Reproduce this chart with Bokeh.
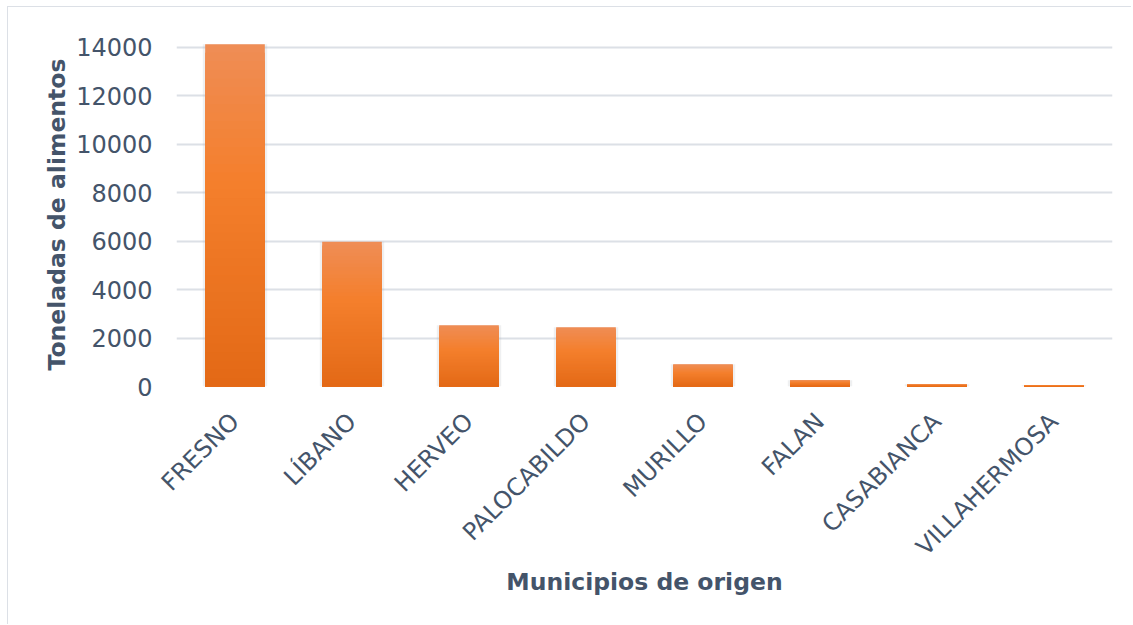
import numpy as np
from bokeh.plotting import figure
from bokeh.models import FixedTicker, ColumnDataSource, Range1d
from bokeh.embed import file_html
from bokeh.resources import INLINE

municipios = ["FRESNO", "LÍBANO", "HERVEO", "PALOCABILDO", "MURILLO", "FALAN", "CASABIANCA", "VILLAHERMOSA"]
toneladas = [14130, 5970, 2530, 2450, 920, 260, 90, 50]
y_ticks = [0, 2000, 4000, 6000, 8000, 10000, 12000, 14000]

TXT = "#44546A"
FONT = "DejaVu Sans"

p = figure(x_range=municipios, y_range=Range1d(0, 14200), width=1124, height=618,
           output_backend="svg", toolbar_location=None,
           min_border_left=168, min_border_right=20, min_border_top=35, min_border_bottom=239)
p.styles = {"border-left": "1px solid #DCE0E6", "border-top": "1px solid #DCE0E6",
            "margin-left": "7px", "margin-top": "6px"}

def lerp(c1, c2, t):
    return tuple(int(round(a + (b - a) * t)) for a, b in zip(c1, c2))

bot_c = (0xE3, 0x69, 0x16)
mid_c = (0xF4, 0x7F, 0x2C)
top_c = (0xEF, 0x8D, 0x56)
n = 40
xs, tops, cols = [], [], []
# gradient: overlapping bars from the full height down to the bottom slice (no seams)
for i in range(n - 1, -1, -1):
    for m, v in zip(municipios, toneladas):
        t = (i + 0.5) / n
        c = lerp(bot_c, mid_c, t / 0.6) if t < 0.6 else lerp(mid_c, top_c, (t - 0.6) / 0.4)
        xs.append(m)
        tops.append(v * (i + 1) / n)
        cols.append("#%02x%02x%02x" % c)

# soft shadow
p.vbar(x=municipios, top=toneladas, bottom=[-70] * len(municipios), width=0.55,
       fill_color="#9aa0a8", fill_alpha=0.16, line_color=None)
src = ColumnDataSource(dict(x=xs, top=tops, color=cols))
p.vbar(x="x", bottom=0, top="top", width=0.51, source=src,
       fill_color="color", line_color=None)

p.outline_line_color = None
p.xgrid.grid_line_color = None
p.ygrid.grid_line_color = "#DCE0E6"
p.ygrid.grid_line_width = 2
p.yaxis.ticker = FixedTicker(ticks=y_ticks)

for ax in (p.xaxis[0], p.yaxis[0]):
    ax.axis_line_color = None
    ax.major_tick_line_color = None
    ax.minor_tick_line_color = None
    ax.major_label_text_color = TXT
    ax.major_label_text_font = FONT
    ax.major_label_text_font_size = "24px"
    ax.axis_label_text_color = TXT
    ax.axis_label_text_font = FONT
    ax.axis_label_text_font_size = "23.5px"
    ax.axis_label_text_font_style = "bold"

p.yaxis.axis_label = "Toneladas de alimentos"
p.yaxis.major_label_standoff = 18
p.yaxis.axis_label_standoff = 2
p.xaxis.axis_label = "Municipios de origen"
p.xaxis.major_label_orientation = np.pi / 4
p.xaxis.major_label_standoff = 25
p.xaxis.axis_label_standoff = -6
p.background_fill_color = "white"
p.border_fill_color = "white"

open("out.html", "w").write(file_html(p, INLINE))
